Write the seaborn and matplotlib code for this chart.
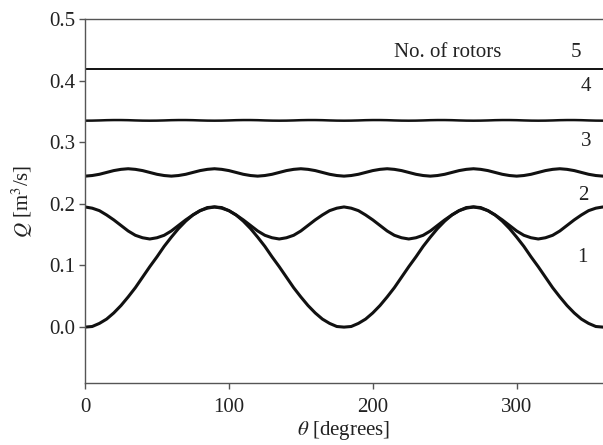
import numpy as np
import pandas as pd
import matplotlib
matplotlib.use("Agg")
import matplotlib.pyplot as plt
import seaborn as sns

# ---- data ----
theta = list(range(0, 361, 5))  # degrees

q_rotor1 = [0.000, 0.001, 0.006, 0.013, 0.023, 0.035, 0.049, 0.064, 0.081, 0.098,
            0.114, 0.131, 0.146, 0.160, 0.172, 0.182, 0.189, 0.194, 0.195,
            0.194, 0.189, 0.182, 0.172, 0.160, 0.146, 0.131, 0.114, 0.098, 0.081,
            0.064, 0.049, 0.035, 0.023, 0.013, 0.006, 0.001, 0.000,
            0.001, 0.006, 0.013, 0.023, 0.035, 0.049, 0.064, 0.081, 0.098,
            0.114, 0.131, 0.146, 0.160, 0.172, 0.182, 0.189, 0.194, 0.195,
            0.194, 0.189, 0.182, 0.172, 0.160, 0.146, 0.131, 0.114, 0.098, 0.081,
            0.064, 0.049, 0.035, 0.023, 0.013, 0.006, 0.001, 0.000]

q_rotor2 = [0.195,
            0.193, 0.189, 0.182, 0.174, 0.165, 0.156, 0.149, 0.145, 0.143,
            0.145, 0.149, 0.156, 0.165, 0.174, 0.182, 0.189, 0.193, 0.195,
            0.193, 0.189, 0.182, 0.174, 0.165, 0.156, 0.149, 0.145, 0.143,
            0.145, 0.149, 0.156, 0.165, 0.174, 0.182, 0.189, 0.193, 0.195,
            0.193, 0.189, 0.182, 0.174, 0.165, 0.156, 0.149, 0.145, 0.143,
            0.145, 0.149, 0.156, 0.165, 0.174, 0.182, 0.189, 0.193, 0.195,
            0.193, 0.189, 0.182, 0.174, 0.165, 0.156, 0.149, 0.145, 0.143,
            0.145, 0.149, 0.156, 0.165, 0.174, 0.182, 0.189, 0.193, 0.195]

q_rotor3 = [0.245,
            0.246, 0.248, 0.251, 0.254, 0.256, 0.257, 0.256, 0.254, 0.251, 0.248, 0.246, 0.245,
            0.246, 0.248, 0.251, 0.254, 0.256, 0.257, 0.256, 0.254, 0.251, 0.248, 0.246, 0.245,
            0.246, 0.248, 0.251, 0.254, 0.256, 0.257, 0.256, 0.254, 0.251, 0.248, 0.246, 0.245,
            0.246, 0.248, 0.251, 0.254, 0.256, 0.257, 0.256, 0.254, 0.251, 0.248, 0.246, 0.245,
            0.246, 0.248, 0.251, 0.254, 0.256, 0.257, 0.256, 0.254, 0.251, 0.248, 0.246, 0.245,
            0.246, 0.248, 0.251, 0.254, 0.256, 0.257, 0.256, 0.254, 0.251, 0.248, 0.246, 0.245]

q_rotor4 = [0.3350,
            0.3351, 0.3354, 0.3358, 0.3360, 0.3360, 0.3358, 0.3354, 0.3351, 0.3350,
            0.3351, 0.3354, 0.3358, 0.3360, 0.3360, 0.3358, 0.3354, 0.3351, 0.3350,
            0.3351, 0.3354, 0.3358, 0.3360, 0.3360, 0.3358, 0.3354, 0.3351, 0.3350,
            0.3351, 0.3354, 0.3358, 0.3360, 0.3360, 0.3358, 0.3354, 0.3351, 0.3350,
            0.3351, 0.3354, 0.3358, 0.3360, 0.3360, 0.3358, 0.3354, 0.3351, 0.3350,
            0.3351, 0.3354, 0.3358, 0.3360, 0.3360, 0.3358, 0.3354, 0.3351, 0.3350,
            0.3351, 0.3354, 0.3358, 0.3360, 0.3360, 0.3358, 0.3354, 0.3351, 0.3350,
            0.3351, 0.3354, 0.3358, 0.3360, 0.3360, 0.3358, 0.3354, 0.3351, 0.3350]

theta5 = [0, 90, 180, 270, 360]
q_rotor5 = [0.4188, 0.4188, 0.4188, 0.4188, 0.4188]

series_labels = ["1", "2", "3", "4", "5"]
label_theta = [346, 346, 348, 348, 341]
label_q = [0.113, 0.213, 0.301, 0.391, 0.446]

# ---- style ----
sns.set_style("white")
plt.rcParams["font.family"] = ["Liberation Serif", "DejaVu Serif"]
plt.rcParams["mathtext.fontset"] = "stix"
plt.rcParams["font.size"] = 15

FS = 15
fig = plt.figure(figsize=(6.03, 4.45), dpi=100)
ax = fig.add_axes([85 / 603, 1 - 383 / 445, 1 - 85 / 603, (383 - 19) / 445])

frames = [
    (pd.DataFrame({"theta": theta, "Q": q_rotor1}), 2.2),
    (pd.DataFrame({"theta": theta, "Q": q_rotor2}), 2.2),
    (pd.DataFrame({"theta": theta, "Q": q_rotor3}), 2.2),
    (pd.DataFrame({"theta": theta, "Q": q_rotor4}), 1.8),
    (pd.DataFrame({"theta": theta5, "Q": q_rotor5}), 1.4),
]
for df, lw in frames:
    sns.lineplot(data=df, x="theta", y="Q", ax=ax, color="#111111",
                 linewidth=lw, sort=False, estimator=None)

for lab, tx, ty in zip(series_labels, label_theta, label_q):
    ax.text(tx, ty, lab, ha="center", va="center", fontsize=FS, color="#222222")
ax.text(252, 0.446, "No. of rotors", ha="center", va="center",
        fontsize=FS, color="#222222")

ax.set_xlim(0, 360)
ax.set_ylim(-0.0907, 0.5)
ax.set_xticks([0, 100, 200, 300])
ax.set_yticks([0.0, 0.1, 0.2, 0.3, 0.4, 0.5])
ax.set_yticklabels(["0.0", "0.1", "0.2", "0.3", "0.4", "0.5"])

for side in ["left", "bottom", "top"]:
    ax.spines[side].set_visible(True)
    ax.spines[side].set_color("#555555")
    ax.spines[side].set_linewidth(1.0)
ax.spines["right"].set_visible(False)
ax.tick_params(axis="both", direction="out", length=4, width=1.0,
               color="#555555", labelsize=FS, labelcolor="#222222")
ax.tick_params(axis="x", bottom=True, top=False, pad=7)
ax.tick_params(axis="y", left=True, right=False, pad=3)

ax.set_xlabel(r"$\theta$ [degrees]", fontsize=FS, labelpad=1, color="#222222")
ax.set_ylabel(r"$Q$ [m$^3$/s]", fontsize=FS, labelpad=10, color="#222222")

fig.savefig("out.png", dpi=100)
